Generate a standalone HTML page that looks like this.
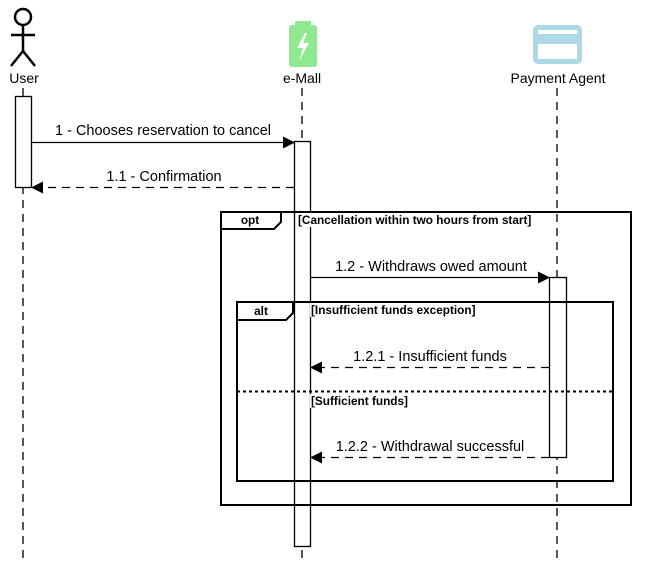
<!DOCTYPE html>
<html><head><style>body{margin:0;background:#fff}svg{display:block}text{font-family:"Liberation Sans",Arial,sans-serif}</style></head>
<body>
<svg width="655" height="563" viewBox="0 0 655 563" xmlns="http://www.w3.org/2000/svg">
<defs><marker id="a" markerWidth="12" markerHeight="12" refX="11" refY="6" orient="auto" markerUnits="userSpaceOnUse"><path d="M0,0 L12,6 L0,12 Z" fill="#000"/></marker></defs>
<g stroke="#000" stroke-dasharray="8,6" fill="none" stroke-width="1.3">
<line x1="23" y1="88" x2="23" y2="563"/>
<line x1="302" y1="88" x2="302" y2="563"/>
<line x1="557" y1="88" x2="557" y2="563"/>
</g>
<g stroke="#000" stroke-width="2.5" fill="none">
<circle cx="23" cy="17" r="8"/>
<line x1="23" y1="25" x2="23" y2="52"/>
<line x1="11" y1="35" x2="35" y2="35"/>
<line x1="23" y1="51" x2="11" y2="66"/>
<line x1="23" y1="51" x2="35" y2="66"/>
</g>
<text x="24" y="83" font-size="14" text-anchor="middle">User</text>
<rect x="295" y="21" width="16" height="6" rx="1" fill="#90e890"/>
<rect x="289" y="25" width="28" height="42" rx="3" fill="#90e890"/>
<path d="M305,33 L297,48 L303,48 L299,61 L309,43 L303,43 L307,33 Z" fill="#fff"/>
<text x="302" y="83" font-size="14" text-anchor="middle">e-Mall</text>
<rect x="533" y="25" width="49" height="39" rx="5" fill="#add8e6"/>
<rect x="538" y="30" width="39" height="4" fill="#fff"/>
<rect x="538" y="44" width="39" height="15" fill="#fff"/>
<text x="558" y="83" font-size="14" text-anchor="middle">Payment Agent</text>
<g stroke="#000" fill="#fff" stroke-width="1.3">
<rect x="15.5" y="96.5" width="16" height="91"/>
<rect x="294.5" y="141.5" width="16" height="405"/>
<rect x="549.5" y="277.5" width="17" height="180"/>
</g>
<g stroke="#000" fill="none" stroke-width="1.3">
<line x1="31" y1="142.5" x2="294" y2="142.5" marker-end="url(#a)"/>
<line x1="294" y1="187.5" x2="32" y2="187.5" stroke-dasharray="8,6" marker-end="url(#a)"/>
<line x1="310" y1="277.5" x2="549" y2="277.5" marker-end="url(#a)"/>
<line x1="549" y1="367.5" x2="311" y2="367.5" stroke-dasharray="8,6" marker-end="url(#a)"/>
<line x1="549" y1="457.5" x2="311" y2="457.5" stroke-dasharray="8,6" marker-end="url(#a)"/>
</g>
<g font-size="14.5" text-anchor="middle">
<text x="163" y="135">1 - Chooses reservation to cancel</text>
<text x="164" y="181">1.1 - Confirmation</text>
<text x="431" y="271">1.2 - Withdraws owed amount</text>
<text x="430" y="361">1.2.1 - Insufficient funds</text>
<text x="430" y="451">1.2.2 - Withdrawal successful</text>
</g>
<g stroke="#000" stroke-width="2" fill="none">
<rect x="221" y="212" width="410" height="293"/>
<path d="M221,229 L274,229 L281,222 L281,212"/>
<rect x="237" y="302" width="376" height="179"/>
<path d="M237,320 L286,320 L293,313 L293,302"/>
<line x1="237" y1="391.5" x2="613" y2="391.5" stroke-dasharray="3,3"/>
</g>
<g font-size="11.8" font-weight="bold">
<text x="250" y="224" text-anchor="middle">opt</text>
<rect x="297" y="213" width="238" height="14" fill="#fff"/>
<text x="298" y="224">[Cancellation within two hours from start]</text>
<text x="261" y="315" text-anchor="middle">alt</text>
<rect x="310" y="303" width="166" height="14" fill="#fff"/>
<text x="311" y="314">[Insufficient funds exception]</text>
<rect x="310" y="394" width="98" height="14" fill="#fff"/>
<text x="311" y="405">[Sufficient funds]</text>
</g>
</svg>
</body></html>
